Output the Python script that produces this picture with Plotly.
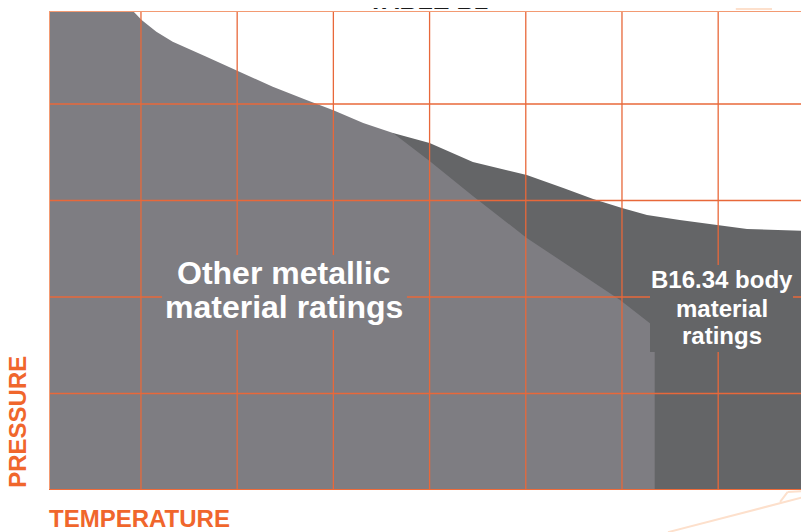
import plotly.graph_objects as go

# ---- data (abstract temperature / pressure units) ----
x_min, x_max = 4.4, 794.4
y_min, y_max = 0, 4964

# "Other metallic material ratings" envelope (light grey)
other_x = [4.4, 4.4, 91.7, 100.7, 116, 133, 168, 200, 237, 272, 300, 331, 362,
           400, 445, 501, 546, 598, 634, 634]
other_y = [0, 4964, 4964, 4871, 4749, 4646, 4490, 4345, 4179, 4041, 3935, 3803, 3700,
           3410, 3047, 2612, 2311, 1969, 1689, 0]

# "B16.34 body material ratings" envelope (dark grey)
b1634_x = [362, 400, 445, 501, 539, 570, 600, 626, 660, 699, 730, 795, 795, 362]
b1634_y = [3700, 3596, 3399, 3264, 3130, 3016, 2922, 2850, 2798, 2746, 2705, 2684, 0, 0]

x_ticks = [100, 200, 300, 400, 500, 600, 700]
y_ticks = [1000, 2000, 3000, 4000]

LIGHT = "#7e7d82"
DARK = "#646567"
ORANGE = "#e8683a"
TXT_ORANGE = "#f0662c"
FONT = "Liberation Sans, Arial, sans-serif"

fig = go.Figure()

fig.add_trace(go.Scatter(x=b1634_x, y=b1634_y, fill="toself", fillcolor=DARK,
                         mode="lines", line=dict(width=0), hoverinfo="skip"))
fig.add_trace(go.Scatter(x=other_x, y=other_y, fill="toself", fillcolor=LIGHT,
                         mode="lines", line=dict(width=0), hoverinfo="skip"))

# grid lines on top of the filled areas
gx, gy = [], []
for t in x_ticks:
    gx += [t, t, None]
    gy += [y_min, y_max, None]
for t in y_ticks:
    gx += [x_min, x_max, None]
    gy += [t, t, None]
fig.add_trace(go.Scatter(x=gx, y=gy, mode="lines", line=dict(color=ORANGE, width=1.3),
                         hoverinfo="skip"))

# frame: top / left lighter, bottom solid
fig.add_trace(go.Scatter(x=[x_max, x_min, x_min], y=[y_max, y_max, y_min], mode="lines",
                         line=dict(color="#f39a72", width=2), hoverinfo="skip"))
fig.add_trace(go.Scatter(x=[x_min, x_max], y=[y_min, y_min], mode="lines",
                         line=dict(color="#ee6a38", width=2), hoverinfo="skip"))

annotations = [
    # background boxes that interrupt the grid behind the labels
    dict(x=249.2, y=2047, xref="x", yref="y", text=" ", showarrow=False,
         width=245, height=75, bgcolor=LIGHT, borderpad=0, borderwidth=0,
         font=dict(size=4)),
    dict(x=703.4, y=1881, xref="x", yref="y", text=" ", showarrow=False,
         width=143, height=87, bgcolor=DARK, borderpad=0, borderwidth=0,
         font=dict(size=4)),
    dict(x=248.6, y=2249, xref="x", yref="y", text="<b>Other metallic</b>", showarrow=False,
         font=dict(family=FONT, size=32, color="white")),
    dict(x=248.6, y=1900, xref="x", yref="y", text="<b>material ratings</b>", showarrow=False,
         font=dict(family=FONT, size=32, color="white")),
    dict(x=703.6, y=2181, xref="x", yref="y", text="<b>B16.34 body</b>", showarrow=False,
         font=dict(family=FONT, size=24, color="white")),
    dict(x=703.6, y=1886, xref="x", yref="y", text="<b>material</b>", showarrow=False,
         font=dict(family=FONT, size=24, color="white")),
    dict(x=703.6, y=1601, xref="x", yref="y", text="<b>ratings</b>", showarrow=False,
         font=dict(family=FONT, size=24, color="white")),
    # axis titles
    dict(x=0, y=0, xref="paper", yref="paper", xanchor="left", yanchor="middle",
         xshift=-2, yshift=-28, text="<b>TEMPERATURE</b>", showarrow=False,
         font=dict(family=FONT, size=24, color=TXT_ORANGE)),
    dict(x=0, y=0.1413, xref="paper", yref="paper", xanchor="center", yanchor="middle",
         xshift=-31.5, textangle=-90, text="<b>PRESSURE</b>", showarrow=False,
         font=dict(family=FONT, size=24, color=TXT_ORANGE)),
    # title, mostly above the visible page
    dict(x=0.499, y=1, xref="paper", yref="paper", xanchor="center", yanchor="middle",
         yshift=11, text="<b>TABLE B2</b>", showarrow=False,
         font=dict(family=FONT, size=25, color="#1a1a1a")),
]

# faint decorative sketch lines in the page background
WM = "#fde0cc"
shapes = [
    dict(type="line", xref="paper", yref="paper", x0=0.8145, y0=-0.088, x1=1.0, y1=-0.012,
         line=dict(color=WM, width=2), layer="below"),
    dict(type="line", xref="paper", yref="paper", x0=0.962, y0=-0.025, x1=0.972, y1=-0.004,
         line=dict(color=WM, width=2), layer="below"),
    dict(type="line", xref="paper", yref="paper", x0=0.972, y0=-0.004, x1=1.0, y1=-0.002,
         line=dict(color=WM, width=2), layer="below"),
    dict(type="line", xref="paper", yref="paper", x0=0.883, y0=1.011, x1=0.918, y1=1.022,
         line=dict(color=WM, width=2), layer="below"),
    dict(type="line", xref="paper", yref="paper", x0=0.905, y0=1.002, x1=0.905, y1=1.023,
         line=dict(color=WM, width=2), layer="below"),
    dict(type="line", xref="paper", yref="paper", x0=0.925, y0=1.002, x1=0.925, y1=1.023,
         line=dict(color=WM, width=2), layer="below"),
    dict(type="line", xref="paper", yref="paper", x0=0.950, y0=1.002, x1=0.950, y1=1.023,
         line=dict(color=WM, width=2), layer="below"),
    dict(type="line", xref="paper", yref="paper", x0=0.905, y0=1.004, x1=0.950, y1=1.004,
         line=dict(color=WM, width=2), layer="below"),
]

# the page body adds an 8 px offset, so the figure is 801 x 524 with reduced margins
fig.update_layout(
    width=801, height=524,
    margin=dict(l=41, r=0, t=3, b=42, pad=0),
    paper_bgcolor="white", plot_bgcolor="white",
    showlegend=False,
    xaxis=dict(range=[x_min, x_max], showgrid=False, zeroline=False, showline=False,
               showticklabels=False, ticks="", fixedrange=True),
    yaxis=dict(range=[y_min, y_max], showgrid=False, zeroline=False, showline=False,
               showticklabels=False, ticks="", fixedrange=True),
    annotations=annotations,
    shapes=shapes,
)

fig.write_html("out.html")
